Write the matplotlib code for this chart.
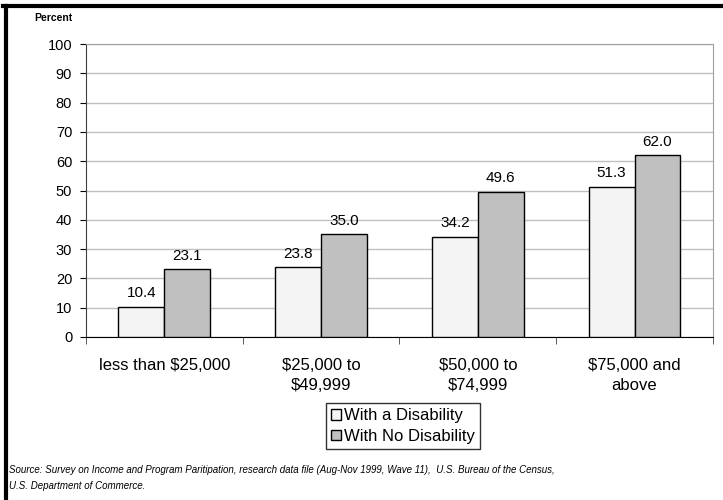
import matplotlib
matplotlib.use("Agg")
import matplotlib.pyplot as plt
import numpy as np
from matplotlib.lines import Line2D

categories = ["less than $25,000", "$25,000 to\n$49,999", "$50,000 to\n$74,999", "$75,000 and\nabove"]
with_disability = [10.4, 23.8, 34.2, 51.3]
no_disability = [23.1, 35.0, 49.6, 62.0]
series_names = ["With a Disability", "With No Disability"]
source = ("Source: Survey on Income and Program Paritipation, research data file (Aug-Nov 1999, Wave 11),  "
          "U.S. Bureau of the Census,\nU.S. Department of Commerce.")

plt.rcParams["font.family"] = ["Liberation Sans", "DejaVu Sans"]

fig = plt.figure(figsize=(7.23, 5.0), dpi=100)
ax = fig.add_axes([0.119, 0.326, 0.867, 0.586])

x = np.arange(len(categories))
w = 0.293
b1 = ax.bar(x - w / 2, with_disability, w, color="#f4f4f4", edgecolor="black", linewidth=1, zorder=3,
            label=series_names[0])
b2 = ax.bar(x + w / 2, no_disability, w, color="#c0c0c0", edgecolor="black", linewidth=1, zorder=3,
            label=series_names[1])

for bars, vals in ((b1, with_disability), (b2, no_disability)):
    for r, v in zip(bars, vals):
        ax.text(r.get_x() + r.get_width() / 2, v + 2.3, f"{v:.1f}", ha="center", va="bottom",
                fontsize=11, zorder=4)

ax.set_xlim(-0.5, len(categories) - 0.5)
ax.set_ylim(0, 100)
ax.set_yticks(range(0, 101, 10))
ax.yaxis.grid(True, color="#c0c0c0", linewidth=1, zorder=0)
ax.tick_params(axis="y", labelsize=10.5, length=4, direction="out", pad=6)

ax.set_xticks(x)
ax.set_xticklabels(categories, fontsize=12, linespacing=1.45)
ax.tick_params(axis="x", which="major", length=0, pad=15)
ax.set_xticks(np.arange(-0.5, len(categories)), minor=True)
ax.tick_params(axis="x", which="minor", length=5, color="#404040")

for s in ("top", "right"):
    ax.spines[s].set_color("#a0a0a0")
ax.spines["left"].set_color("#404040")
ax.spines["bottom"].set_color("black")

fig.text(0.048, 0.964, "Percent", fontsize=7.5, fontweight="bold", ha="left", va="center")

leg = fig.legend(handles=[b1, b2], loc="center", bbox_to_anchor=(0.557, 0.148), fontsize=12,
                 frameon=True, fancybox=False, edgecolor="black", handlelength=0.6, handleheight=0.6,
                 handletextpad=0.2, borderpad=0.3, labelspacing=0.35, borderaxespad=0)
leg.get_frame().set_linewidth(1)

fig.text(0.012, 0.044, source, fontsize=7, style="italic", ha="left", va="center", linespacing=1.75)

# outer frame (top and left edges only)
fig.add_artist(Line2D([0.004, 1.0], [0.989, 0.989], color="black", linewidth=3, transform=fig.transFigure))
fig.add_artist(Line2D([0.008, 0.008], [0.0, 0.989], color="black", linewidth=3, transform=fig.transFigure))

fig.savefig("out.png", dpi=100, facecolor="white")
